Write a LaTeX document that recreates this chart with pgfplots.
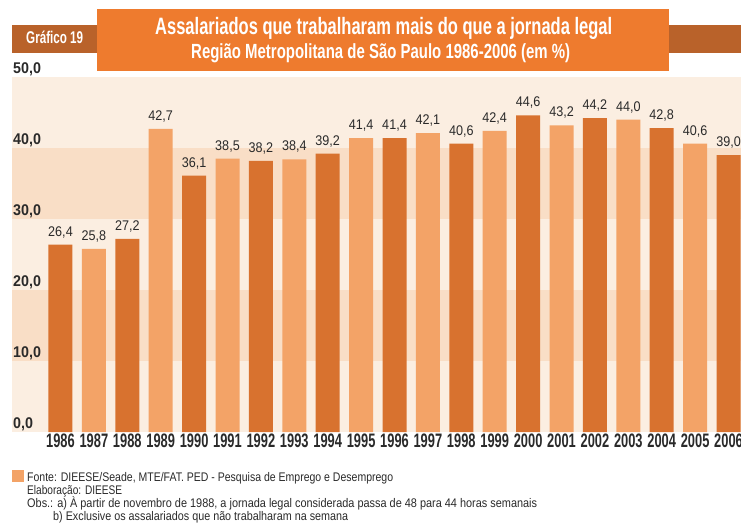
\documentclass[border=0pt]{standalone}
\usepackage{pgfplots}
\pgfplotsset{compat=1.18}
\usepackage{graphicx}
\usepackage{fontspec}
\setmainfont{Liberation Sans}
\newfontfamily\xfont[FakeStretch=0.66]{Liberation Sans Bold}
\newfontfamily\yfont[FakeStretch=0.92]{Liberation Sans Bold}
\newfontfamily\vfont[FakeStretch=0.9]{Liberation Sans}
\newfontfamily\tfont{Liberation Sans Bold}
\newfontfamily\ffont{Liberation Sans}
\definecolor{bgLight}{HTML}{FBEEE1}
\definecolor{bgDark}{HTML}{F9DEC6}
\definecolor{barDark}{HTML}{D8722F}
\definecolor{barLight}{HTML}{F3A367}
\definecolor{titleOrange}{HTML}{EE7B2E}
\definecolor{stripDark}{HTML}{B9622A}
\definecolor{textDark}{HTML}{2A2A2A}
\newsavebox\fitbox
\newlength\fitlen
\newcommand\fitw[2]{\sbox\fitbox{#2}\settowidth\fitlen{\usebox\fitbox}\pgfmathsetmacro\sx{#1/\fitlen}\scalebox{\sx}[1]{\usebox\fitbox}}
\begin{document}
\begin{tikzpicture}
\useasboundingbox (0pt,0pt) rectangle (741pt,-526pt);
\begin{scope}
\clip (0pt,0pt) rectangle (741pt,-526pt);
% header
\fill[stripDark] (12pt,-25pt) rectangle (97pt,-53pt);
\fill[stripDark] (669pt,-25pt) rectangle (741pt,-53pt);
\fill[titleOrange] (97pt,-9pt) rectangle (669pt,-71pt);
\node[anchor=base west, inner sep=0pt, text=white] at (26pt,-44pt) {\fitw{57}{\fontsize{17}{17}\tfont Gráfico 19}};
\node[anchor=base west, inner sep=0pt, text=white] at (155pt,-35pt) {\fitw{457}{\fontsize{23.7}{24}\tfont Assalariados que trabalharam mais do que a jornada legal}};
\node[anchor=base west, inner sep=0pt, text=white] at (191pt,-59pt) {\fitw{379}{\fontsize{20.5}{21}\tfont Região Metropolitana de São Paulo 1986-2006 (em \%)}};
% plot background bands (0-50 over 355pt)
\fill[bgLight] (12pt,-77pt) rectangle (741pt,-432pt);
\fill[bgDark] (12pt,-361pt) rectangle (741pt,-290pt);
\fill[bgDark] (12pt,-219pt) rectangle (741pt,-148pt);
\begin{axis}[
  at={(12pt,-432pt)}, anchor=south west,
  scale only axis, width=729pt, height=355pt,
  xmin=-1.452, xmax=20.374, ymin=0, ymax=50,
  axis line style={draw=none}, tick style={draw=none},
  xtick={0,...,20},
  xticklabels={1986,1987,1988,1989,1990,1991,1992,1993,1994,1995,1996,1997,1998,1999,2000,2001,2002,2003,2004,2005,2006},
  xticklabel style={font=\fontsize{19.5}{19}\xfont, text=textDark, anchor=north, inner sep=0pt, yshift=-2pt},
  ytick={0,10,20,30,40,50},
  yticklabel style={font=\fontsize{15.5}{16}\yfont, text=textDark, anchor=south west, inner sep=1pt, xshift=0pt,
    /pgf/number format/.cd, fixed, fixed zerofill, precision=1, use comma, assume math mode=true},
  clip=false,
]
\addplot[ybar, bar width=24pt, bar shift=0pt, fill=barDark, draw=none,
  nodes near coords={\pgfmathprintnumber[fixed,fixed zerofill,precision=1,use comma,assume math mode=true]{\pgfplotspointmeta}},
  every node near coord/.append style={font=\fontsize{14}{14}\vfont, text=textDark, anchor=base, inner sep=0pt, yshift=8.5pt}]
  coordinates {(0,26.4) (2,27.2) (4,36.1) (6,38.2) (8,39.2) (10,41.4) (12,40.6) (14,44.6) (16,44.2) (18,42.8) (20,39.0)};
\addplot[ybar, bar width=24pt, bar shift=0pt, fill=barLight, draw=none,
  nodes near coords={\pgfmathprintnumber[fixed,fixed zerofill,precision=1,use comma,assume math mode=true]{\pgfplotspointmeta}},
  every node near coord/.append style={font=\fontsize{14}{14}\vfont, text=textDark, anchor=base, inner sep=0pt, yshift=8.5pt}]
  coordinates {(1,25.8) (3,42.7) (5,38.5) (7,38.4) (9,41.4) (11,42.1) (13,42.4) (15,43.2) (17,44.0) (19,40.6)};
\end{axis}
% footer
\fill[barLight] (12pt,-470pt) rectangle (24pt,-482pt);
\node[anchor=base west, inner sep=0pt, text=textDark] at (27pt,-481pt) {\fitw{366}{\fontsize{12.5}{13}\ffont Fonte: DIEESE/Seade, MTE/FAT. PED - Pesquisa de Emprego e Desemprego}};
\node[anchor=base west, inner sep=0pt, text=textDark] at (27pt,-494pt) {\fitw{95}{\fontsize{12.5}{13}\ffont Elaboração: DIEESE}};
\node[anchor=base west, inner sep=0pt, text=textDark] at (27pt,-507pt) {\fitw{510}{\fontsize{12.5}{13}\ffont Obs.: a) À partir de novembro de 1988, a jornada legal considerada passa de 48 para 44 horas semanais}};
\node[anchor=base west, inner sep=0pt, text=textDark] at (53pt,-520pt) {\fitw{295}{\fontsize{12.5}{13}\ffont b) Exclusive os assalariados que não trabalharam na semana}};
\end{scope}
\end{tikzpicture}
\end{document}
